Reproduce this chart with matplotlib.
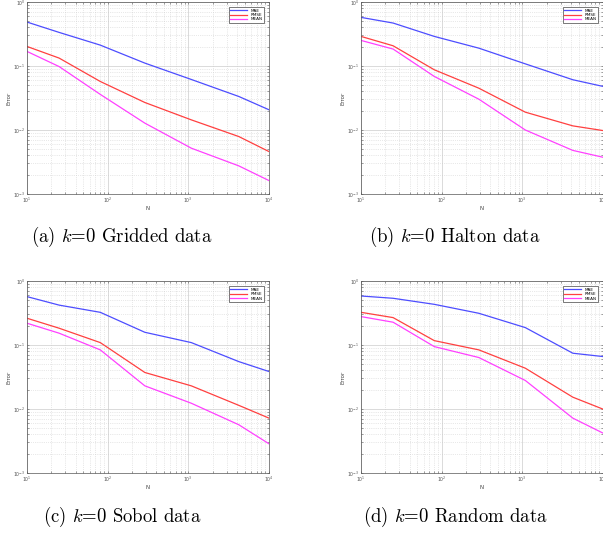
import matplotlib
matplotlib.use("Agg")
import matplotlib.pyplot as plt

# sample sizes (x values of the error curves)
n_pts = [10, 25, 81, 289, 1089, 4225, 10000]

# k=0 Gridded data
grid_mae = [0.486, 0.335, 0.212, 0.111, 0.0616, 0.0334, 0.0207]
grid_rmse = [0.202, 0.133, 0.0573, 0.0269, 0.0144, 0.0079, 0.0046]
grid_mean = [0.169, 0.098, 0.036, 0.0128, 0.0052, 0.00275, 0.00162]

# k=0 Halton data
halt_mae = [0.575, 0.469, 0.290, 0.190, 0.108, 0.061, 0.048]
halt_rmse = [0.290, 0.207, 0.0873, 0.045, 0.019, 0.0116, 0.0098]
halt_mean = [0.251, 0.184, 0.0687, 0.0303, 0.0100, 0.0048, 0.00375]

# k=0 Sobol data
sob_mae = [0.570, 0.420, 0.324, 0.158, 0.109, 0.055, 0.0385]
sob_rmse = [0.262, 0.183, 0.109, 0.0372, 0.023, 0.0114, 0.0072]
sob_mean = [0.219, 0.153, 0.0839, 0.023, 0.0123, 0.00567, 0.00286]

# k=0 Random data
rand_mae = [0.583, 0.537, 0.432, 0.313, 0.187, 0.0744, 0.066]
rand_rmse = [0.324, 0.268, 0.117, 0.0839, 0.0434, 0.0153, 0.00995]
rand_mean = [0.278, 0.227, 0.0944, 0.0637, 0.0279, 0.0072, 0.0042]

captions = ["(a) $k$=0 Gridded data", "(b) $k$=0 Halton data",
            "(c) $k$=0 Sobol data", "(d) $k$=0 Random data"]
panels = [(grid_mae, grid_rmse, grid_mean), (halt_mae, halt_rmse, halt_mean),
          (sob_mae, sob_rmse, sob_mean), (rand_mae, rand_rmse, rand_mean)]

plt.rcParams['mathtext.fontset'] = 'cm'

W, H = 603, 535
fig = plt.figure(figsize=(W / 100, H / 100), dpi=100)

# axes boxes in pixels: left, top, right, bottom
boxes = [(27, 2, 269, 194), (361, 2, 603, 194),
         (27, 281, 269, 473), (361, 281, 603, 473)]
cap_pos = [(122, 237), (455, 237), (122, 517), (455, 517)]

for i, (mae, rmse, mean) in enumerate(panels):
    l, t, r, b = boxes[i]
    ax = fig.add_axes([l / W, 1 - b / H, (r - l) / W, (b - t) / H])
    ax.loglog(n_pts, mae, color='#4d4dff', lw=0.9, label='MAE')
    ax.loglog(n_pts, rmse, color='#ff4040', lw=0.9, label='RMSE')
    ax.loglog(n_pts, mean, color='#ff40ff', lw=0.9, label='MEAN')
    ax.set_xlim(10, 1e4)
    ax.set_ylim(1e-3, 1)
    ax.grid(True, which='major', color='#cccccc', lw=0.5)
    ax.grid(True, which='minor', color='#c8c8c8', lw=0.45, linestyle=(0, (1, 2)))
    ax.tick_params(which='both', labelsize=3.3, length=1.5, width=0.4,
                   direction='in', pad=1, top=True, right=True, colors='#555555')
    ax.set_xlabel('N', fontsize=4, labelpad=1, color='#444444')
    ax.set_ylabel('Error', fontsize=4, labelpad=1, color='#444444')
    for s in ax.spines.values():
        s.set_linewidth(0.5)
        s.set_color('#555555')
    leg = ax.legend(loc='upper right', fontsize=3, handlelength=4,
                    borderpad=0.3, labelspacing=0.1, fancybox=False,
                    framealpha=1, edgecolor='#444444', borderaxespad=1.3)
    leg.get_frame().set_linewidth(0.5)
    cx, cy = cap_pos[i]
    fig.text(cx / W, 1 - cy / H, captions[i], ha='center', va='center',
             fontsize=13.5, family='cmr10')

fig.savefig('out.png', dpi=100)
